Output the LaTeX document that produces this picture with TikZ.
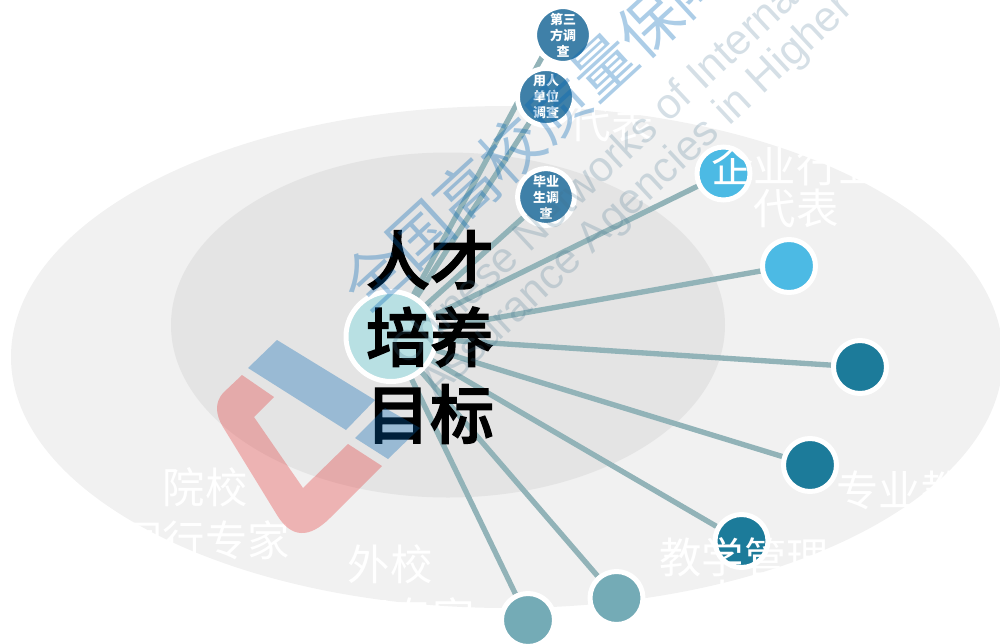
\documentclass[tikz,border=0pt]{standalone}
\usepackage{fontspec}
\setmainfont{Noto Sans CJK SC}
\newfontfamily\latinwm{Liberation Sans}
\newfontfamily\hubfont[FakeBold=2]{Noto Sans CJK SC Medium}
\definecolor{outerE}{HTML}{F1F1F1}
\definecolor{innerE}{HTML}{E4E4E4}
\definecolor{linkC}{HTML}{92B3B8}
\definecolor{hubC}{HTML}{B8E0E3}
\definecolor{surveyC}{HTML}{3F80A8}
\definecolor{skyC}{HTML}{4CBAE4}
\definecolor{tealC}{HTML}{1C7B9A}
\definecolor{paleC}{HTML}{74ABB6}
\definecolor{wmBlue}{HTML}{0065B5}
\definecolor{wmGrey}{HTML}{3F6F8C}
\definecolor{logoRed}{HTML}{E62525}
\pgfdeclarelayer{ellipses}
\pgfdeclarelayer{links}
\pgfsetlayers{ellipses,links,main}
\tikzset{
  x=0.75pt,y=-0.75pt,
  ring/.style={circle,draw=white,line width=3.75pt,minimum size=39.75pt,inner sep=0pt},
  surveynode/.style={ring,fill=surveyC,text=white,font=\fontsize{9.75}{12}\selectfont\bfseries,align=center,text width=27pt},
  skynode/.style={ring,fill=skyC},
  tealnode/.style={ring,fill=tealC},
  palenode/.style={ring,fill=paleC},
  link/.style={draw=linkC,line width=4pt},
  ghost/.style={text=white,font=\fontsize{31.75}{39.5}\selectfont,align=center,inner sep=0pt},
  ghosttight/.style={text=white,font=\fontsize{31.75}{31.5}\selectfont,align=center,inner sep=0pt},
  hublabel/.style={text=black,font=\hubfont\fontsize{48}{57.75}\selectfont,align=center,inner sep=0pt},
  wmcn/.style={text=wmBlue,text opacity=.325,font=\fontsize{46.5}{46.5}\selectfont,rotate=42.5,inner sep=0pt,anchor=center},
  wmen/.style={text=wmGrey,text opacity=.22,font=\latinwm\fontsize{32}{32}\selectfont,rotate=43,inner sep=0pt,anchor=west},
  logoB/.style={fill=wmBlue,fill opacity=.325},
  logoR/.style={fill=logoRed,fill opacity=.3},
}
\begin{document}
\begin{tikzpicture}
\useasboundingbox (0,0) rectangle (1000,643);
\clip (0,0) rectangle (1000,643);
\begin{pgfonlayer}{ellipses}
\fill[outerE] (507,357) ellipse [x radius=496,y radius=251];
\fill[innerE] (448,325) ellipse [x radius=277,y radius=172.5];
\end{pgfonlayer}
\node[ring,fill=hubC,minimum size=67.5pt] (hub) at (391,336.5) {};
\node[surveynode] (n1) at (546,197) {毕业\\生调\\查};
\node[surveynode] (n2) at (546,97) {用人\\单位\\调查};
\node[surveynode] (n3) at (563,35) {第三\\方调\\查};
\coordinate (n3aim) at (554,35);
\node[skynode] (n4) at (723.5,173.5) {};
\node[skynode] (n5) at (789,266) {};
\node[tealnode] (n6) at (860,367) {};
\node[tealnode] (n7) at (810,465) {};
\node[tealnode] (n8) at (741.5,541) {};
\node[palenode] (n9) at (616.5,598) {};
\node[palenode] (n10) at (528,620) {};
\begin{pgfonlayer}{links}
\foreach \t in {n1,n2,n3aim,n4,n5,n6,n7,n8,n9,n10} \draw[link] (hub) -- (\t);
\end{pgfonlayer}
\node[ghost] (g1) at (205,513.5) {院校\\同行专家};
\node[ghost] (g2) at (390,591) {外校\\同行专家};
\node[ghosttight] (g3) at (744,578) {教学管理\\人员};
\node[ghost] (g4) at (921,490) {专业教师};
\node[ghosttight] (g5) at (796,187) {企业行业\\代表};
\node[ghost] (g6) at (611,122) {代表};
\node[hublabel] (hubtext) at (430,337) {人才\\培养\\目标};
\fill[logoB] (277,340) -- (375,400) -- (346,430) -- (248,368) -- cycle;
\fill[logoB] (355,438) -- (385,408) -- (420,428) -- (388,459) -- cycle;
\fill[logoR] (242,375) -- (274,397) -- (254,417) -- (303,488) -- (348,444) -- (382,466) -- (330,518)
  .. controls (309,539) and (291,538) .. (277,515) -- (223,427)
  .. controls (215,414) and (215,402) .. (223,393) -- cycle;
\node[wmcn] (wm1) at (534.5,129) {全国高校质量保障};
\node[wmen] (wm2) at (396,357) {Chinese Networks of International};
\node[wmen] (wm3) at (429,392) {Assurance Agencies in Higher};
\end{tikzpicture}
\end{document}
